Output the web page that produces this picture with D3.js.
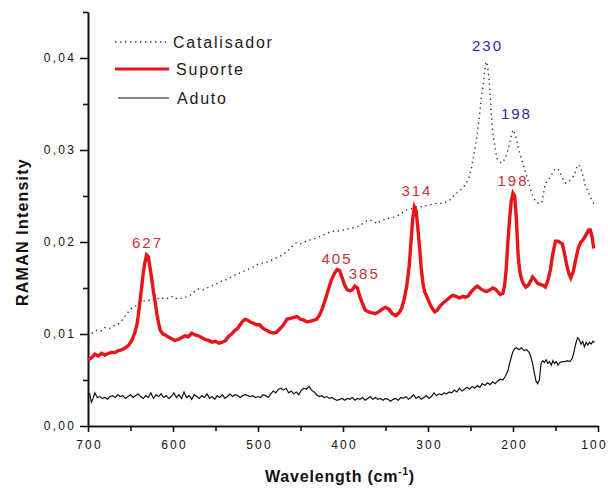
<!DOCTYPE html>
<html>
<head>
<meta charset="utf-8">
<script src="https://cdn.jsdelivr.net/npm/d3@7"></script>
<style>
  body { margin: 0; background: #fff; }
  svg { font-family: "Liberation Sans", Arial, sans-serif; }
  .tick text { font-size: 12px; letter-spacing: 2.2px; fill: #111; }
  .axis path, .axis line { stroke: #111; stroke-width: 1.6px; }
</style>
</head>
<body>
<svg id="chart" width="608" height="491"></svg>
<script>
// wavenumber (cm-1), intensity
var catalisador = [[700,0.0097],[695,0.0101],[690,0.0104],[685,0.0103],[680,0.0107],[675,0.0106],[670,0.0109],[665,0.0110],[660,0.0115],[655,0.0121],[650,0.0127],[645,0.0130],[640,0.0133],[635,0.0136],[630,0.0136],[625,0.0138],[620,0.0137],[615,0.0140],[610,0.0138],[605,0.0139],[600,0.0141],[595,0.0138],[590,0.0139],[585,0.0140],[580,0.0142],[575,0.0146],[570,0.0149],[565,0.0148],[560,0.0150],[555,0.0152],[550,0.0154],[545,0.0157],[540,0.0158],[535,0.0160],[530,0.0163],[525,0.0165],[520,0.0167],[515,0.0169],[510,0.0171],[505,0.0173],[500,0.0176],[495,0.0177],[490,0.0178],[485,0.0180],[480,0.0182],[475,0.0184],[470,0.0187],[465,0.0190],[460,0.0195],[455,0.0199],[450,0.0198],[445,0.0200],[440,0.0202],[435,0.0203],[430,0.0205],[425,0.0207],[420,0.0209],[415,0.0211],[410,0.0212],[405,0.0212],[400,0.0213],[395,0.0214],[390,0.0215],[385,0.0216],[380,0.0218],[375,0.0221],[370,0.0224],[365,0.0223],[360,0.0220],[355,0.0223],[350,0.0225],[345,0.0226],[340,0.0227],[335,0.0229],[330,0.0232],[325,0.0235],[320,0.0236],[315,0.0238],[310,0.0238],[305,0.0239],[300,0.0240],[295,0.0241],[290,0.0242],[285,0.0242],[280,0.0243],[275,0.0245],[270,0.0250],[265,0.0254],[260,0.0258],[256,0.0262],[252,0.0270],[249,0.0280],[246,0.0295],[243,0.0311],[240,0.0333],[237,0.0358],[234,0.0379],[232,0.0396],[230,0.0392],[228,0.0376],[226,0.0345],[224,0.0320],[222,0.0308],[219,0.0291],[216,0.0287],[213,0.0286],[209,0.0291],[205,0.0303],[202,0.0315],[200,0.0322],[197,0.0316],[194,0.0303],[190,0.0290],[186,0.0278],[182,0.0266],[178,0.0253],[174,0.0245],[170,0.0242],[166,0.0243],[162,0.0264],[158,0.0268],[154,0.0274],[150,0.0280],[146,0.0278],[142,0.0270],[138,0.0264],[134,0.0266],[130,0.0270],[127,0.0275],[124,0.0284],[121,0.0282],[118,0.0273],[115,0.0262],[111,0.0253],[107,0.0245],[104,0.0240]];

var suporte = [[700,0.0072],[696,0.0074],[692,0.0078],[688,0.0076],[684,0.0079],[680,0.0077],[676,0.0079],[672,0.0080],[668,0.0080],[664,0.0082],[660,0.0083],[656,0.0085],[652,0.0088],[648,0.0094],[645,0.0101],[642,0.0112],[639,0.0134],[637,0.0150],[635,0.0166],[633,0.0178],[631,0.0186],[629,0.0184],[627,0.0172],[625,0.0160],[623,0.0146],[621,0.0135],[619,0.0122],[617,0.0112],[615,0.0104],[612,0.0100],[609,0.0099],[606,0.0097],[602,0.0095],[598,0.0093],[594,0.0094],[590,0.0096],[586,0.0098],[582,0.0097],[578,0.0101],[574,0.0099],[570,0.0098],[566,0.0096],[562,0.0094],[558,0.0093],[554,0.0091],[550,0.0092],[546,0.0090],[542,0.0091],[538,0.0093],[535,0.0097],[531,0.0100],[527,0.0104],[524,0.0106],[521,0.0110],[518,0.0114],[515,0.0116],[512,0.0115],[509,0.0113],[506,0.0112],[502,0.0110],[498,0.0110],[494,0.0106],[490,0.0104],[486,0.0102],[482,0.0101],[478,0.0102],[474,0.0106],[470,0.0110],[466,0.0116],[462,0.0117],[458,0.0118],[454,0.0119],[450,0.0116],[446,0.0115],[442,0.0113],[438,0.0114],[434,0.0115],[431,0.0116],[428,0.0120],[425,0.0126],[422,0.0134],[418,0.0146],[414,0.0158],[410,0.0166],[407,0.0170],[404,0.0169],[401,0.0161],[398,0.0153],[395,0.0148],[392,0.0147],[389,0.0148],[386,0.0152],[383,0.0150],[380,0.0140],[377,0.0133],[374,0.0126],[370,0.0124],[366,0.0123],[362,0.0122],[358,0.0124],[354,0.0127],[350,0.0129],[346,0.0127],[342,0.0122],[338,0.0120],[334,0.0123],[331,0.0128],[328,0.0138],[325,0.0152],[322,0.0175],[320,0.0200],[318,0.0225],[316,0.0238],[314,0.0234],[312,0.0216],[310,0.0195],[308,0.0172],[306,0.0155],[304,0.0146],[301,0.0140],[298,0.0133],[295,0.0128],[292,0.0124],[289,0.0126],[286,0.0130],[282,0.0134],[278,0.0137],[274,0.0140],[271,0.0142],[267,0.0141],[263,0.0139],[259,0.0141],[256,0.0140],[253,0.0141],[249,0.0146],[245,0.0150],[242,0.0152],[238,0.0149],[234,0.0147],[231,0.0146],[227,0.0148],[224,0.0150],[221,0.0149],[218,0.0146],[215,0.0143],[212,0.0144],[210,0.0152],[208,0.0170],[206,0.0200],[204,0.0225],[202,0.0245],[200,0.0253],[198,0.0250],[196,0.0225],[194,0.0185],[192,0.0168],[190,0.0160],[188,0.0155],[185,0.0151],[182,0.0153],[179,0.0158],[177,0.0162],[174,0.0159],[171,0.0155],[168,0.0154],[165,0.0153],[162,0.0151],[159,0.0158],[156,0.0170],[153,0.0188],[150,0.0201],[147,0.0201],[144,0.0199],[142,0.0198],[140,0.0190],[137,0.0176],[134,0.0165],[132,0.0161],[129,0.0168],[126,0.0182],[123,0.0194],[120,0.0200],[117,0.0203],[114,0.0208],[111,0.0213],[109,0.0213],[107,0.0206],[105,0.0193]];

var aduto = [[700,0.0033],[698,0.0035],[696,0.0026],[694,0.0030],[692,0.0036],[689,0.0031],[686,0.0032],[683,0.0030],[680,0.0031],[677,0.0029],[674,0.0032],[671,0.0033],[668,0.0031],[665,0.0034],[662,0.0032],[659,0.0033],[656,0.0030],[653,0.0032],[650,0.0034],[647,0.0031],[644,0.0033],[641,0.0035],[638,0.0032],[635,0.0030],[632,0.0033],[629,0.0031],[626,0.0036],[623,0.0030],[620,0.0034],[617,0.0032],[614,0.0035],[611,0.0031],[608,0.0033],[605,0.0030],[602,0.0032],[599,0.0036],[596,0.0031],[593,0.0034],[590,0.0030],[587,0.0037],[584,0.0031],[581,0.0033],[578,0.0029],[575,0.0034],[572,0.0032],[569,0.0030],[566,0.0033],[563,0.0031],[560,0.0035],[557,0.0030],[554,0.0032],[551,0.0029],[548,0.0033],[545,0.0031],[542,0.0034],[539,0.0030],[536,0.0032],[533,0.0035],[530,0.0032],[527,0.0034],[524,0.0033],[521,0.0031],[518,0.0033],[515,0.0034],[512,0.0033],[509,0.0032],[506,0.0033],[503,0.0031],[500,0.0032],[497,0.0031],[494,0.0034],[491,0.0033],[488,0.0031],[485,0.0035],[482,0.0038],[479,0.0036],[476,0.0040],[473,0.0041],[470,0.0039],[467,0.0041],[464,0.0036],[461,0.0038],[458,0.0035],[455,0.0037],[452,0.0034],[449,0.0039],[446,0.0041],[443,0.0040],[440,0.0043],[437,0.0039],[434,0.0037],[431,0.0034],[428,0.0032],[425,0.0033],[422,0.0031],[419,0.0032],[416,0.0030],[413,0.0031],[410,0.0029],[407,0.0028],[404,0.0029],[401,0.0030],[398,0.0028],[395,0.0030],[392,0.0029],[389,0.0031],[386,0.0028],[383,0.0030],[380,0.0029],[377,0.0031],[374,0.0028],[371,0.0030],[368,0.0032],[365,0.0029],[362,0.0031],[359,0.0029],[356,0.0030],[353,0.0028],[350,0.0030],[347,0.0029],[344,0.0027],[341,0.0029],[338,0.0030],[335,0.0028],[332,0.0031],[329,0.0030],[326,0.0032],[323,0.0029],[320,0.0031],[317,0.0034],[314,0.0030],[311,0.0032],[308,0.0029],[305,0.0031],[302,0.0033],[299,0.0030],[296,0.0032],[293,0.0036],[290,0.0033],[287,0.0035],[284,0.0034],[281,0.0036],[278,0.0035],[275,0.0037],[272,0.0036],[269,0.0039],[266,0.0037],[263,0.0041],[260,0.0038],[257,0.0040],[254,0.0042],[251,0.0040],[248,0.0043],[245,0.0041],[242,0.0044],[239,0.0042],[236,0.0046],[233,0.0044],[230,0.0047],[227,0.0045],[224,0.0048],[221,0.0046],[218,0.0049],[215,0.0051],[212,0.0050],[209,0.0054],[206,0.0060],[204,0.0068],[202,0.0075],[200,0.0081],[198,0.0084],[196,0.0085],[193,0.0083],[190,0.0085],[187,0.0082],[184,0.0083],[181,0.0080],[179,0.0075],[177,0.0068],[175,0.0058],[173,0.0049],[171,0.0046],[169,0.0050],[167,0.0068],[165,0.0071],[163,0.0069],[161,0.0072],[159,0.0068],[157,0.0070],[155,0.0066],[153,0.0071],[151,0.0068],[149,0.0070],[147,0.0066],[145,0.0069],[142,0.0070],[139,0.0070],[136,0.0071],[133,0.0070],[130,0.0074],[128,0.0082],[126,0.0090],[124,0.0096],[122,0.0094],[120,0.0089],[118,0.0092],[116,0.0086],[114,0.0091],[112,0.0088],[110,0.0091],[108,0.0089],[106,0.0092],[104,0.0091]];

var xTicks = [700, 600, 500, 400, 300, 200, 100];
var xMinor = [650, 550, 450, 350, 250, 150];
var yTicks = [0, 0.01, 0.02, 0.03, 0.04];
var yMinor = [0.005, 0.015, 0.025, 0.035, 0.045];

var legendNames = ["Catalisador", "Suporte", "Aduto"];

// peak labels: [wavenumber, intensity at label baseline, text, series]
var peakLabels = [
  [630, 0.0194, "627", "s"],
  [407, 0.0176, "405", "s"],
  [375, 0.0160, "385", "s"],
  [313, 0.0250, "314", "s"],
  [200, 0.0261, "198", "s"],
  [230, 0.0408, "230", "c"],
  [196, 0.0334, "198", "c"]
];

var svg = d3.select("#chart");
var x = d3.scaleLinear().domain([700, 100]).range([88, 598]);
var y = d3.scaleLinear().domain([0, 0.045]).range([426, 12]);

var fmt = function(d) { return d3.format(".2f")(d).replace(".", ","); };

// minor ticks first so the labelled axis sits over them
svg.append("g").attr("class", "axis")
  .attr("transform", "translate(88,0)")
  .call(d3.axisLeft(y).tickValues(yMinor).tickSize(5).tickSizeOuter(0).tickFormat(""));
svg.append("g").attr("class", "axis")
  .attr("transform", "translate(88,0)")
  .call(d3.axisLeft(y).tickValues(yTicks).tickSize(8).tickSizeOuter(0).tickFormat(fmt).tickPadding(4));

svg.append("g").attr("class", "axis")
  .attr("transform", "translate(0,426)")
  .call(d3.axisBottom(x).tickValues(xMinor).tickSize(5).tickSizeOuter(0).tickFormat(""));
svg.append("g").attr("class", "axis")
  .attr("transform", "translate(0,426)")
  .call(d3.axisBottom(x).tickValues(xTicks).tickSize(6).tickSizeOuter(0).tickPadding(8))
  .selectAll("text").attr("dx", function(d) { return d === 100 ? "-4px" : "1px"; });

var line = d3.line()
  .x(function(d) { return x(d[0]); })
  .y(function(d) { return y(d[1]); });

svg.append("path").datum(aduto)
  .attr("d", line).attr("fill", "none")
  .attr("stroke", "#111").attr("stroke-width", 1.2);

svg.append("path").datum(catalisador)
  .attr("d", line).attr("fill", "none")
  .attr("stroke", "#2e2e8c").attr("stroke-width", 1.4)
  .attr("stroke-dasharray", "1.4 3.6");

svg.append("path").datum(suporte)
  .attr("d", line).attr("fill", "none")
  .attr("stroke", "#e8141a").attr("stroke-width", 3.4)
  .attr("stroke-linejoin", "miter");

// peak labels
svg.selectAll("text.peak")
  .data(peakLabels)
  .enter().append("text")
  .attr("class", "peak")
  .attr("x", function(d) { return x(d[0]); })
  .attr("y", function(d) { return y(d[1]); })
  .attr("text-anchor", "middle")
  .attr("font-size", "15px")
  .attr("letter-spacing", "2px")
  .attr("fill", function(d) { return d[3] === "s" ? "#c8323a" : "#2a2aa8"; })
  .text(function(d) { return d[2]; });

// legend
var lg = svg.append("g");
lg.append("line").attr("x1", 115).attr("x2", 166).attr("y1", 42).attr("y2", 42)
  .attr("stroke", "#2e2e8c").attr("stroke-width", 1.4).attr("stroke-dasharray", "1.4 3.6");
lg.append("line").attr("x1", 115).attr("x2", 169).attr("y1", 69).attr("y2", 69)
  .attr("stroke", "#e8141a").attr("stroke-width", 3);
lg.append("line").attr("x1", 118).attr("x2", 169).attr("y1", 98).attr("y2", 98)
  .attr("stroke", "#111").attr("stroke-width", 1.2);
lg.selectAll("text")
  .data(legendNames)
  .enter().append("text")
  .attr("x", function(d, i) { return [173, 176, 177][i]; })
  .attr("y", function(d, i) { return [48, 75, 104][i]; })
  .attr("font-size", "16px")
  .attr("letter-spacing", "1.8px")
  .attr("fill", "#1a1a1a")
  .text(function(d) { return d; });

// axis titles
svg.append("text")
  .attr("transform", "translate(28,232) rotate(-90)")
  .attr("text-anchor", "middle")
  .attr("font-size", "16px")
  .attr("font-weight", "bold")
  .attr("letter-spacing", "1.2px")
  .attr("fill", "#111")
  .text("RAMAN Intensity");

var xt = svg.append("text")
  .attr("x", 340).attr("y", 482)
  .attr("text-anchor", "middle")
  .attr("font-size", "16px")
  .attr("font-weight", "bold")
  .attr("letter-spacing", "0.8px")
  .attr("fill", "#111");
xt.append("tspan").text("Wavelength (cm");
xt.append("tspan").attr("font-size", "10px").attr("dy", "-7").text("-1");
xt.append("tspan").attr("dy", "7").text(")");
</script>
</body>
</html>
